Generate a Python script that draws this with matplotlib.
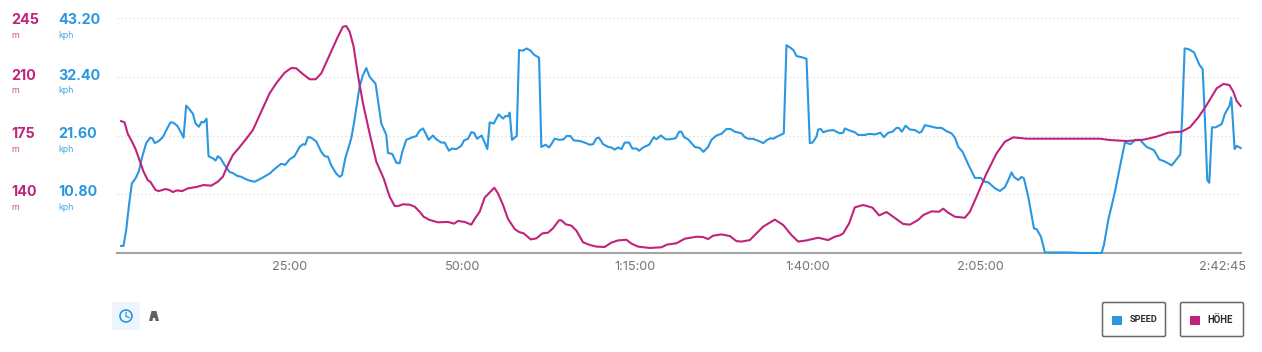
import matplotlib
matplotlib.use('Agg')
import matplotlib.pyplot as plt
from matplotlib.patches import Rectangle, FancyBboxPatch, Circle, Polygon

# minutes since start / kph
speed_t = [0.60, 0.94, 1.33, 1.71, 2.15, 2.68, 3.16, 3.65, 4.23, 4.81, 5.10, 5.48, 6.06, 6.64, 7.27, 7.75, 8.09, 8.72, 9.30, 9.64,
           10.02, 10.51, 10.99, 11.38, 11.86, 12.25, 12.58, 12.97, 13.26, 13.89, 14.28, 14.61, 15.00, 15.58, 16.30, 16.79, 17.37, 18.00, 18.96, 19.93,
           20.89, 22.10, 23.07, 23.79, 24.37, 25.00, 25.72, 26.45, 26.93, 27.27, 27.66, 28.14, 28.86, 29.59, 30.07, 30.56, 31.04, 31.76, 32.25, 32.58,
           33.07, 33.94, 34.32, 35.14, 35.63, 36.11, 36.59, 37.46, 37.80, 38.29, 39.01, 39.25, 39.88, 40.46, 40.94, 41.33, 41.91, 42.63, 43.36, 43.84,
           44.32, 44.71, 45.14, 45.77, 46.26, 46.98, 47.46, 48.09, 48.53, 49.16, 49.88, 50.27, 50.85, 51.33, 51.72, 52.15, 52.83, 53.65, 53.99, 54.57,
           55.29, 55.92, 56.30, 56.64, 56.88, 57.22, 57.90, 58.24, 58.82, 59.30, 59.93, 60.36, 61.14, 61.47, 62.10, 62.58, 62.92, 63.40, 64.13, 64.71,
           65.10, 65.68, 66.16, 67.03, 67.75, 68.48, 68.96, 69.45, 69.83, 70.41, 71.14, 71.62, 72.10, 72.58, 73.07, 73.55, 74.18, 74.66, 75.24, 75.63,
           76.21, 77.08, 77.75, 78.14, 78.77, 79.49, 80.07, 80.94, 81.43, 81.76, 82.15, 82.73, 83.70, 84.42, 84.95, 85.63, 86.11, 86.84, 87.56, 88.29,
           88.86, 89.49, 90.46, 90.94, 91.43, 92.15, 93.12, 93.60, 94.08, 94.66, 95.05, 95.77, 96.59, 96.98, 97.70, 98.04, 98.43, 99.15, 99.88, 100.36,
           100.75, 101.33, 101.57, 101.95, 102.29, 103.02, 103.74, 104.22, 104.71, 105.19, 105.43, 106.15, 106.88, 107.37, 108.33, 108.96, 109.78, 110.60, 111.09, 111.71,
           112.34, 112.92, 113.26, 113.70, 114.23, 114.86, 115.58, 116.21, 116.55, 117.03, 117.75, 118.72, 119.44, 120.17, 120.89, 121.38, 121.87, 122.49, 123.31, 124.28,
           125.10, 125.72, 126.21, 127.17, 127.90, 128.62, 129.11, 129.59, 129.93, 130.56, 131.04, 131.38, 132.00, 132.83, 133.21, 133.84, 134.42, 135.63, 137.56, 139.98,
           142.63, 142.97, 143.60, 144.57, 145.29, 146.01, 146.84, 147.46, 148.19, 149.15, 150.22, 150.99, 151.81, 152.78, 153.41, 154.03, 154.28, 154.66, 155.19, 156.01,
           156.79, 157.27, 157.60, 157.94, 158.23, 158.62, 159.15, 160.02, 160.50, 161.13, 161.42, 161.90, 162.19, 162.77]
speed = [1.3, 1.3, 4.2, 8.5, 12.8, 13.7, 15.0, 17.7, 20.2, 21.2, 21.1, 20.2, 20.6, 21.3, 22.9, 24.0, 24.0, 23.4, 22.1, 21.2,
         27.1, 26.4, 25.6, 23.8, 23.2, 24.1, 24.0, 24.7, 17.8, 17.4, 17.0, 17.8, 17.4, 16.2, 14.9, 14.7, 14.2, 14.0, 13.4, 13.1,
         13.7, 14.6, 15.7, 16.4, 16.2, 17.2, 17.8, 19.5, 20.0, 19.9, 21.3, 21.2, 20.5, 18.6, 17.8, 17.7, 16.1, 14.6, 14.0, 14.3,
         17.4, 21.1, 23.8, 30.6, 32.7, 34.0, 32.4, 31.1, 28.1, 23.8, 21.7, 18.4, 18.2, 16.6, 16.5, 18.6, 20.8, 21.2, 21.5, 22.5,
         22.9, 22.0, 20.8, 21.6, 20.9, 20.3, 20.3, 18.8, 19.2, 19.1, 19.7, 20.7, 21.0, 22.2, 22.1, 21.0, 21.6, 19.1, 24.0, 23.8,
         25.5, 24.7, 25.2, 25.1, 25.8, 20.8, 21.5, 37.3, 37.2, 37.6, 37.2, 36.5, 35.9, 19.5, 19.9, 19.4, 20.0, 21.0, 20.8, 20.9,
         21.5, 21.5, 20.7, 20.6, 20.3, 19.9, 20.0, 21.1, 21.2, 20.0, 19.5, 19.4, 19.0, 19.4, 19.1, 20.3, 20.3, 19.2, 19.2, 18.8,
         19.4, 19.9, 21.3, 20.9, 21.6, 20.9, 20.9, 21.1, 22.3, 22.3, 21.3, 20.9, 19.5, 19.3, 18.6, 19.5, 20.8, 21.6, 21.9, 22.8,
         22.8, 22.3, 22.0, 21.3, 21.0, 21.0, 20.5, 20.2, 20.7, 21.1, 21.0, 21.5, 22.0, 38.2, 37.6, 37.2, 36.2, 36.0, 35.7, 20.2,
         20.3, 21.4, 22.7, 22.8, 22.2, 22.5, 22.6, 22.3, 22.0, 22.1, 22.9, 22.5, 22.2, 21.7, 21.7, 21.9, 21.8, 22.1, 21.3, 22.1,
         22.3, 23.0, 23.0, 22.3, 23.4, 22.7, 22.6, 22.1, 22.3, 23.5, 23.3, 23.0, 23.0, 22.4, 22.0, 21.2, 19.5, 18.6, 16.3, 13.8,
         13.8, 13.1, 13.0, 11.9, 11.4, 12.1, 13.4, 14.8, 14.0, 13.4, 14.0, 13.7, 10.4, 4.5, 4.4, 3.0, 0.1, 0.1, 0.1, 0.0,
         0.0, 1.5, 6.1, 11.3, 15.9, 20.3, 20.0, 20.8, 20.8, 19.5, 18.9, 17.2, 16.8, 16.1, 17.1, 18.1, 24.5, 37.6, 37.5, 36.9,
         34.6, 33.8, 24.5, 13.4, 12.9, 23.1, 23.1, 23.7, 25.6, 27.0, 28.6, 19.1, 19.7, 19.3]

# minutes since start / metres
hoehe_t = [0.60, 1.09, 1.57, 2.05, 2.68, 3.26, 3.84, 4.47, 4.86, 5.58, 6.06, 7.03, 7.61, 8.09, 8.67, 9.44, 10.27, 11.47, 12.54, 13.65,
           14.61, 15.34, 16.06, 16.79, 17.75, 18.96, 19.69, 20.89, 22.10, 23.07, 24.28, 25.24, 25.97, 26.93, 27.90, 28.77, 29.59, 30.80, 32.00, 32.73,
           33.21, 33.70, 34.28, 34.90, 35.63, 36.59, 37.56, 38.62, 39.49, 40.22, 40.70, 41.43, 42.39, 43.12, 43.84, 44.42, 45.29, 46.50, 47.95, 48.82,
           49.40, 50.36, 51.33, 51.81, 52.54, 53.26, 53.99, 54.66, 55.19, 55.92, 56.64, 57.61, 58.24, 58.91, 59.93, 60.75, 61.62, 62.44, 63.16, 64.03,
           64.37, 65.00, 65.82, 66.55, 67.51, 68.48, 69.45, 70.65, 71.62, 72.58, 73.79, 74.52, 75.48, 77.17, 78.86, 79.68, 81.04, 82.25, 83.93, 84.90,
           85.63, 86.35, 87.56, 88.77, 89.73, 90.46, 91.67, 92.15, 93.60, 95.29, 96.50, 97.70, 98.67, 99.88, 101.57, 103.02, 103.98, 104.71, 105.19, 106.06,
           106.88, 108.09, 109.44, 110.41, 111.47, 112.44, 113.89, 114.86, 116.06, 116.79, 117.99, 119.10, 119.68, 120.41, 121.38, 122.83, 123.55, 124.52, 125.97, 127.42,
           128.62, 129.83, 131.76, 142.39, 143.84, 146.26, 148.67, 150.60, 152.29, 154.22, 155.43, 156.64, 157.85, 159.30, 160.27, 161.13, 161.71, 162.19, 162.77]
hoehe = [183.6, 182.8, 175.9, 172.3, 167.0, 160.4, 153.5, 148.3, 147.3, 142.5, 141.9, 143.1, 142.5, 141.3, 142.3, 141.9, 143.5, 144.3, 145.5, 145.1,
         147.5, 150.5, 157.4, 163.4, 168.0, 174.3, 178.3, 189.2, 200.1, 206.1, 212.4, 215.2, 215.0, 211.6, 208.5, 208.5, 212.0, 223.0, 233.9, 239.8,
         240.2, 236.9, 227.9, 211.0, 194.2, 176.3, 159.4, 149.5, 138.6, 133.0, 133.0, 134.0, 133.8, 132.6, 129.6, 126.6, 124.7, 123.3, 123.5, 122.5,
         124.1, 123.5, 121.9, 125.3, 129.6, 138.0, 141.1, 143.9, 140.5, 133.6, 125.3, 119.3, 117.5, 116.7, 113.1, 113.7, 116.7, 117.1, 119.7, 124.5,
         124.5, 122.1, 121.3, 118.3, 111.4, 109.8, 108.8, 108.6, 111.2, 112.5, 112.9, 110.6, 108.8, 108.0, 108.4, 110.0, 110.8, 113.5, 114.7, 114.5,
         113.3, 115.3, 116.1, 115.1, 112.1, 111.8, 112.7, 114.7, 120.7, 124.9, 121.7, 115.7, 111.8, 112.5, 114.1, 112.7, 114.7, 115.5, 116.7, 122.7,
         132.2, 133.6, 132.0, 127.4, 129.4, 126.6, 122.3, 121.9, 124.7, 127.6, 129.8, 129.6, 131.4, 129.0, 126.6, 126.0, 129.6, 138.6, 152.5, 164.4,
         171.3, 173.9, 173.1, 173.1, 172.3, 171.7, 172.5, 174.3, 176.7, 177.3, 179.9, 185.8, 193.2, 203.1, 205.7, 205.1, 201.1, 195.6, 192.6]

x_ticks = [25, 50, 75, 100, 125]
x_labels = ['25:00', '50:00', '1:15:00', '1:40:00', '2:05:00']
end_time = 162.75
end_label = '2:42:45'
speed_ticks = [43.2, 32.4, 21.6, 10.8]
speed_labels = ['43.20', '32.40', '21.60', '10.80']
hoehe_ticks = ['245', '210', '175', '140']
legend_names = ['SPEED', 'HÖHE']

BLUE = '#2a97e0'
PINK = '#c0237b'
W, H = 1262, 352

plt.rcParams['font.family'] = ['Inter', 'DejaVu Sans']

fig = plt.figure(figsize=(W / 100, H / 100), dpi=100, facecolor='white')
ax = fig.add_axes([117 / W, 1 - 253 / H, (1240.5 - 117) / W, 235 / H])
ax.set_xlim(0, end_time)
ax.set_ylim(0, 43.2)
ax.set_yticks(speed_ticks)
ax.set_yticklabels([])
ax.tick_params(axis='y', length=0)
ax.grid(axis='y', color='#d2d2d2', linestyle=(0, (1, 2.6)), linewidth=0.8)
ax.set_xticks(x_ticks)
ax.set_xticklabels(x_labels, fontsize=9.2, color='#757575')
ax.tick_params(axis='x', length=0, pad=5.5)
for s in ['top', 'left', 'right']:
    ax.spines[s].set_visible(False)
ax.spines['bottom'].set_color('#a3a3a3')
ax.spines['bottom'].set_linewidth(1.5)
ax.plot(speed_t, speed, color=BLUE, linewidth=1.5, clip_on=False, solid_joinstyle='round', zorder=3)
ax.annotate(end_label, xy=(end_time, 0), xytext=(4, -10), textcoords='offset points',
            ha='right', va='center', fontsize=9.2, color='#757575')

ax2 = ax.twinx()
ax2.set_ylim(105, 245)
ax2.axis('off')
ax2.plot(hoehe_t, hoehe, color=PINK, linewidth=1.5, clip_on=False, solid_joinstyle='round')

# overlay in pixels for the labels on the left, icons and legend boxes
ov = fig.add_axes([0, 0, 1, 1], facecolor='none')
ov.set_xlim(0, W)
ov.set_ylim(H, 0)
ov.axis('off')

label_y = [20, 75.5, 134, 192]
for y, h, sp in zip(label_y, hoehe_ticks, speed_labels):
    ov.text(11.5, y, h, color=PINK, fontsize=10.3, fontweight='bold', va='center')
    ov.text(11.5, y + 15, 'm', color=PINK, fontsize=6.4, va='center', alpha=0.8)
    ov.text(58.5, y, sp, color=BLUE, fontsize=10.3, fontweight='bold', va='center')
    ov.text(58.5, y + 15, 'kph', color=BLUE, fontsize=6.4, va='center', alpha=0.85)

# clock icon
ov.add_patch(Rectangle((112, 302), 28, 28, facecolor='#edf6fc', edgecolor='none'))
ov.add_patch(Circle((126, 316), 6, facecolor='none', edgecolor=BLUE, linewidth=1.2))
ov.plot([126, 126, 129], [312.5, 316.5, 317.5], color=BLUE, linewidth=0.9)
# road icon
ov.add_patch(Polygon([(149, 321), (151.5, 311), (156.5, 311), (159, 321), (155.5, 321), (155, 318),
                      (153, 318), (152.5, 321)], facecolor='#5f6368', edgecolor='none'))

# legend boxes
box_x = [(1102.5, 1165.5), (1180.5, 1243.5)]
colors = [BLUE, PINK]
for (x0, x1), name, c in zip(box_x, legend_names, colors):
    ov.add_patch(FancyBboxPatch((x0, 302.5), x1 - x0, 34, boxstyle='round,pad=0,rounding_size=1.5',
                                facecolor='white', edgecolor='#6a6a6a', linewidth=1.1))
    ov.add_patch(Rectangle((x0 + 9, 315.5), 10, 9, facecolor=c, edgecolor='none'))
ov.text(1130, 319.5, legend_names[0], family=['Liberation Sans Narrow', 'Roboto'], fontweight='bold',
        fontsize=6.6, color='#2b2b2b', va='center')
ov.text(1207.5, 319.5, legend_names[1], family=['Liberation Sans Narrow', 'Roboto'], fontweight='bold',
        fontsize=6.9, color='#2b2b2b', va='center')

fig.savefig('out.png', dpi=100)
